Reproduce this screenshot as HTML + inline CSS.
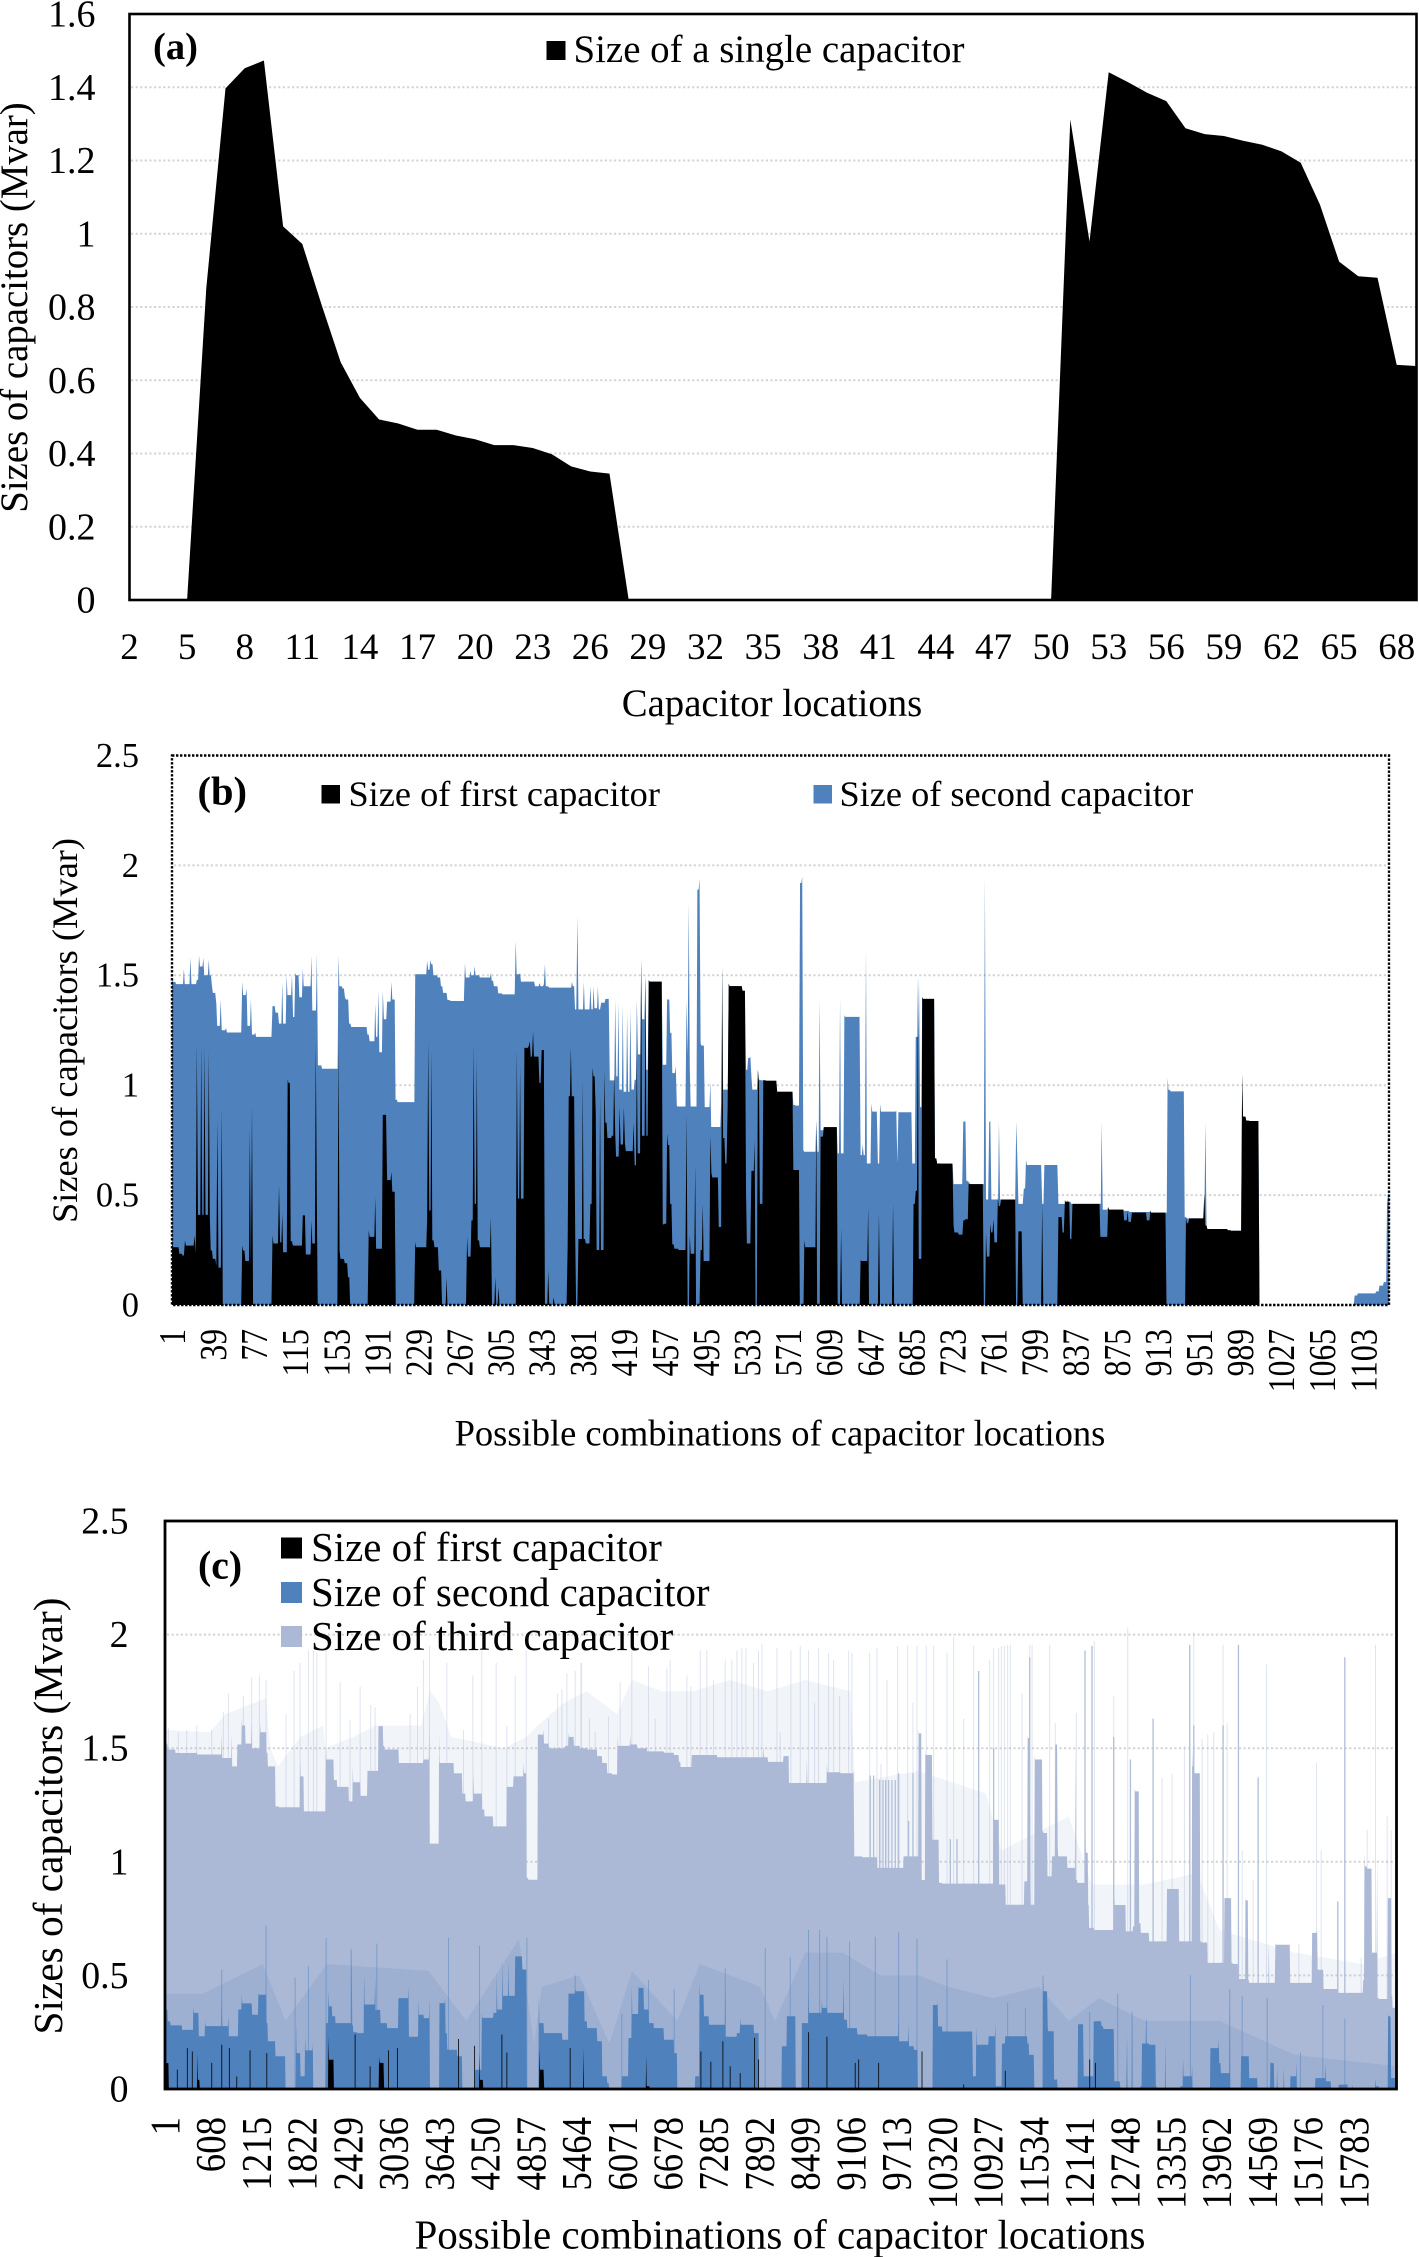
<!DOCTYPE html>
<html lang="en">
<head>
<meta charset="utf-8">
<title>Sizes of capacitors by location</title>
<style>
html,body{margin:0;padding:0;background:#fff;}
svg{display:block;font-family:"Liberation Serif",serif;fill:#000;}
</style>
</head>
<body>
<svg id="figure" width="1419" height="2257" viewBox="0 0 1419 2257" xmlns="http://www.w3.org/2000/svg">
  <rect x="0" y="0" width="1419" height="2257" fill="#fff"/>
  <g id="chart-a">
    <text transform="translate(27,307.5) rotate(-90)" text-anchor="middle" font-size="38.8">Sizes of capacitors (Mvar)</text>
    <text x="772" y="716" text-anchor="middle" font-size="38.8">Capacitor locations</text>
  </g>
  <g id="chart-b">
    <text transform="translate(77,1030.5) rotate(-90)" text-anchor="middle" font-size="36.4">Sizes of capacitors (Mvar)</text>
    <text x="780" y="1445.5" text-anchor="middle" font-size="36.5">Possible combinations of capacitor locations</text>
  </g>
  <g id="chart-c">
    <text transform="translate(62,1816) rotate(-90)" text-anchor="middle" font-size="41.3">Sizes of capacitors (Mvar)</text>
    <text x="780" y="2248.5" text-anchor="middle" font-size="41">Possible combinations of capacitor locations</text>
  </g>
</svg>
<script>
/* ---------- chart (a) data ---------- */
var aLocations = [2,3,4,5,6,7,8,9,10,11,12,13,14,15,16,17,18,19,20,21,22,23,24,25,26,27,28,29,30,31,32,33,34,35,36,37,38,39,40,41,42,43,44,45,46,47,48,49,50,51,52,53,54,55,56,57,58,59,60,61,62,63,64,65,66,67,68,69];
var aSizes = [0,0,0,0,.852,1.397,1.452,1.473,1.02,.972,.807,.649,.552,.493,.482,.465,.465,.449,.439,.423,.423,.415,.398,.365,.351,.345,
  0,0,0,0,0,0,0,0,0,0,0,0,0,0,0,0,0,0,0,0,0,0,0,
  1.312,.979,1.441,1.414,1.385,1.362,1.288,1.272,1.267,1.254,1.243,1.225,1.194,1.08,.924,.884,.88,.642,.639];
var aXTicks = [2,5,8,11,14,17,20,23,26,29,32,35,38,41,44,47,50,53,56,59,62,65,68];
var aYTicks = [0,0.2,0.4,0.6,0.8,1,1.2,1.4,1.6];

/* ---------- chart (b) data: stack tops ---------- */
var bFirstIndex = [
1,7,10,12,13,16,21,22,23,24,
25,28,29,31,32,35,36,38,41,42,
43,44,47,48,65,66,68,71,73,74,
75,76,93,94,99,100,101,103,105,108,
110,112,119,122,124,126,130,132,134,135,
137,154,155,156,160,163,165,182,183,187,
189,193,196,199,200,204,207,208,225,226,
233,237,238,239,241,243,247,250,253,255,
257,273,274,276,278,280,281,283,285,294,
296,297,300,301,303,304,319,320,321,323,
325,327,331,332,334,335,337,340,342,343,
345,346,349,350,354,355,366,367,368,370,
373,374,376,377,381,383,385,388,390,392,
393,395,397,399,401,403,405,408,410,411,
413,415,416,419,420,425,428,429,431,434,
435,437,439,441,442,454,455,457,459,461,
463,465,469,476,477,478,480,483,485,487,
489,490,492,494,499,500,506,509,510,512,
514,515,516,528,531,532,536,537,540,542,
543,544,546,548,550,560,563,575,577,581,
583,586,594,597,599,601,604,616,619,620,
622,636,638,643,645,647,654,655,656,667,
668,669,684,687,689,691,693,695,706,708,
711,723,724,728,731,733,735,738,751,752,
754,756,758,760,761,763,765,767,768,781,
783,784,787,788,805,806,807,820,821,824,
826,827,831,833,834,859,862,867,881,883,
885,888,889,902,904,906,920,921,937,939,
941,942,955,956,958,960,977,980,990,991,
994,997,1006,1007];
var bFirst = [
.286,.263,.233,.225,.294,.27,.27,.317,.233,1.185,
.41,1.177,.41,1.17,.41,1.154,.4,.248,.21,.18,
.84,.17,.9,0,0,.27,.248,.2,.8,.17,
.9,0,0,.317,.28,.545,.285,.416,.24,1.025,
1.01,.29,.27,.408,.408,.23,.385,.28,1.2,.46,
0,0,1.19,.25,.21,.19,.126,0,.34,.31,
.49,.256,.865,.865,.568,.606,.515,0,0,.286,
.263,.385,1.2,.43,1.154,.294,.263,.157,0,.126,
0,0,.31,.22,.385,1.185,.46,1.13,.294,.263,
.4,0,.126,0,.08,0,0,1.16,.484,1.086,
.484,1.17,1.177,1.2,1.13,1.243,1.13,1.13,1.01,1.16,
1.16,0,.157,0,.035,0,0,.263,.95,1.17,
.95,.32,0,.3,1.025,.3,.28,.46,1.08,1.04,
.87,.25,.95,.25,1.07,.83,.76,.77,1.05,.78,
.675,.9,.73,.9,.735,.7,.83,.636,1.14,.69,
1.573,.77,1.497,.77,1.478,1.471,.367,.37,.78,.728,
.46,.276,.256,.25,.87,0,.32,.233,.64,0,
0,.25,.46,.2,.77,.6,.58,.355,1.54,.76,
.644,.9,1.462,1.451,1.43,.52,.28,.61,.75,0,
1.07,1.01,.46,1.025,1.022,1.02,.97,.97,.614,.614,
0,.294,.263,.84,0,.766,.809,.809,0,.347,
0,0,.205,.2,.446,0,0,.416,0,0,
.46,0,0,.46,.52,1.497,.21,1.4,1.393,.667,
.644,.643,.362,.33,.32,.385,.39,.565,.55,0,
.33,.22,.37,.33,.39,.285,.49,.45,.48,.48,
0,.335,.335,0,0,.46,0,0,.4,.4,
.33,.477,.47,.3,.46,.46,.31,.446,.434,.385,
.428,.378,.42,.42,.385,.427,.42,0,0,.4,
.372,.394,.394,.507,.362,.346,.346,.34,.338,1.048,
.857,.839,.837,0];
var bSecondIndex = [
1,4,10,12,15,18,19,24,26,28,
30,32,35,37,38,41,42,44,46,47,
51,53,65,66,68,70,72,74,75,78,
80,93,94,96,99,100,103,105,107,109,
112,113,115,118,120,122,126,130,132,135,
136,139,143,153,155,158,160,161,164,166,
169,181,183,186,189,191,192,194,196,197,
200,204,207,209,212,224,226,234,237,238,
240,242,246,249,251,255,258,271,272,274,
277,279,281,285,294,296,298,302,306,318,
319,321,323,326,336,338,341,342,345,346,
349,355,366,371,373,375,376,377,380,382,
385,388,389,391,393,395,397,398,402,405,
406,409,411,412,414,416,418,420,422,423,
425,426,429,431,432,435,438,439,441,442,
454,455,457,459,461,463,465,467,468,476,
477,478,479,480,483,487,489,490,493,495,
497,499,501,506,509,510,512,516,528,531,
532,534,536,537,540,543,545,550,560,563,
575,577,581,582,584,585,594,597,598,600,
601,604,616,618,619,621,623,637,638,640,
642,643,645,648,653,654,656,658,671,672,
673,685,687,689,692,693,695,706,708,711,
723,724,732,733,735,737,752,753,754,756,
757,758,759,764,766,767,781,782,783,784,
788,789,791,795,805,806,808,820,821,827,
829,832,833,859,861,862,867,881,886,904,
906,920,922,924,937,939,956,957,958,960,
977,980,990,991,994,997,1006,1007,1086,1095,
1098,1115,1118,1122,1125,1126,1127];
var bSecond = [
1.49,1.47,1.46,1.53,1.46,1.58,1.46,1.48,1.59,1.54,
1.58,1.5,1.57,1.5,1.45,1.42,1.37,1.27,1.39,1.25,
1.26,1.24,1.24,1.47,1.41,1.44,1.27,1.39,1.23,1.24,
1.22,1.22,1.36,1.36,1.33,1.28,1.47,1.28,1.5,1.41,
1.5,1.31,1.51,1.5,1.4,1.53,1.45,1.59,1.34,1.6,
1.09,1.09,1.075,1.075,1.59,1.45,1.44,1.4,1.39,1.28,
1.265,1.265,1.23,1.2,1.37,1.22,1.43,1.15,1.43,1.3,
1.38,1.47,1.39,.934,.923,.923,1.505,1.505,1.565,1.525,
1.57,1.55,1.5,1.49,1.45,1.42,1.387,1.383,1.555,1.49,
1.52,1.5,1.54,1.5,1.49,1.51,1.475,1.45,1.418,1.413,
1.657,1.505,1.51,1.471,1.471,1.45,1.465,1.45,1.46,1.55,
1.45,1.444,1.444,1.47,1.45,1.345,1.77,1.345,1.345,1.47,
1.345,1.45,1.345,1.45,1.35,1.45,1.345,1.375,1.393,1.393,
1.022,1.022,1.39,1.04,1.375,.98,1.363,.97,1.33,.97,
1.345,.98,1.025,1.39,1.14,1.573,1.3,1.497,1.07,1.478,
1.471,1.093,1.093,1.39,1.39,1.238,1.055,1.086,.906,.903,
1.39,1.13,1.83,1.07,.903,1.89,1.94,1.19,1.18,.9,
.9,1.017,.81,.81,.918,1.54,.98,1.462,1.451,1.43,
1.07,1.124,1.13,1.04,.98,1.07,1.025,1.022,1.02,.97,
.97,.91,.907,1.92,1.95,.705,.697,.84,.697,1.39,
.795,.809,.809,.69,1.398,.69,1.318,1.311,.682,.73,
.682,1.63,.644,.918,.88,.644,.914,.88,.883,.644,
.877,.877,.644,1.22,1.497,.9,1.4,1.393,.667,.644,
.643,.55,.55,.835,.835,.565,.55,1.95,.48,.48,
.835,.835,.48,.48,.835,.48,.48,.835,.66,.46,
.46,.53,.66,.637,.637,.46,.637,.637,.46,.46,
.477,.47,.46,.46,.835,.434,.446,.434,.428,.423,
.43,.42,1.032,.979,.972,.4,.394,.835,.355,.346,
.346,.34,.338,1.048,.857,.839,.837,0,0,.043,
.053,.062,.088,.104,.46,.507,.5];
var bXTicks = [1,39,77,115,153,191,229,267,305,343,381,419,457,495,533,571,609,647,685,723,761,799,837,875,913,951,989,1027,1065,1103];
var bYTicks = [0,0.5,1,1.5,2,2.5];

/* ---------- chart (c) data: stack tops ---------- */
var cFirstIndex = [
1,46,112,400,431,457,510,2135,2171,2237,
2303,2821,2843,2901,2910,4096,4176,4220,4251,4951,
4973,5026,5035,5535,5557,5610,6375,6389,6428,6440,
16352];
var cFirst = [
.16,.114,0,0,.158,.04,0,0,.232,.129,
.004,0,.144,.115,0,0,.158,.04,0,0,
.18,.085,0,0,.18,0,0,.15,.012,0,
0];
var cFirstSpikeIndex = [165,298,364,621,754,856,953,1130,1352,2525,2724,2968,3087,3897,4110,4473,4539,5380,7115,7247,7407,7504,7637,7827,7880,8544,8788,9164,9209,9474,10050,10603,11156,12276,12352];
var cFirstSpike = [.085,.18,.165,.115,.195,.18,.055,.17,.158,.24,.1,.17,.18,.22,.19,.24,.16,.18,.165,.12,.21,.1,.07,.225,.13,.25,.23,.115,.13,.115,.165,.02,.08,.13,.115];
var cSecondIndex = [
1,32,68,223,311,378,444,488,533,643,
754,776,843,909,975,1020,1152,1197,1241,1343,
1361,1462,1595,1608,1706,1741,1794,1816,1861,1905,
1963,1980,2104,2135,2171,2215,2259,2458,2480,2494,
2550,2613,2644,2702,2790,2857,2945,3078,3100,3233,
3255,3366,3432,3499,3512,3530,3632,3645,3720,3742,
3875,3942,3964,4074,4118,4207,4295,4362,4406,4450,
4482,4517,4561,4592,4650,4738,4796,4805,4946,4964,
5026,5270,5314,5358,5446,5535,5565,5600,5733,5800,
5866,5890,5919,6034,6065,6154,6198,6240,6287,6353,
6420,6486,6619,6752,6796,6818,6995,7040,7097,7150,
7216,7371,7438,7504,7593,7637,7814,7880,7925,8124,
8190,8257,8368,8411,8456,8544,8611,8721,8788,8921,
9009,9053,9186,9319,9452,9695,9740,9784,9872,9939,
9990,10005,10182,10195,10258,10315,10716,10727,10771,10824,
10935,11024,11046,11112,11156,11444,11466,11533,11542,11643,
11657,11710,11719,11798,11812,11843,11851,12086,12122,12188,
12197,12285,12330,12427,12453,12595,12604,12675,12684,12763,
12772,12790,12825,12839,12852,12949,12971,13025,13060,13148,
13162,13259,13281,13295,13481,13516,13613,13636,13649,13844,
13879,13990,14012,14100,14136,14153,14268,14286,14388,14499,
14521,14654,14676,14720,14742,14764,14800,14853,14875,14942,
15021,15039,15229,15273,15406,15473,15482,15570,15583,15694,
15703,15761,15783,16026,16070,16114,16225,16238,16269,16278,
16336,16352];
var cSecond = [
.38,.35,.298,.28,.26,.364,.335,.232,.298,.277,
.408,.277,.32,.232,.35,.415,.377,.327,.42,.415,
.29,.21,.144,0,0,.29,.158,.056,.23,.17,
.2,0,0,.29,.437,.364,.32,.29,.613,.283,
.25,.246,.51,.372,.489,.348,.29,.268,.4,.452,
.23,.393,.327,.312,.408,0,0,.378,.4,.246,
.173,.144,0,0,.085,.335,.313,.335,.51,.35,
.57,.41,.57,.41,.584,.584,.526,0,0,.42,
.29,.246,.217,.42,.437,.43,.43,.298,.268,.21,
.056,.026,0,0,.056,.224,.452,.33,.452,.445,
.35,.29,.268,.217,.158,0,0,.056,.467,.415,
.32,.283,.452,.23,.246,.312,.283,.246,0,0,
.188,.327,.32,0,.29,.437,.335,.393,.357,.335,
.489,.305,.268,.24,.232,.232,.32,.21,.283,.188,
.172,0,0,.37,.378,.275,.253,.056,.283,.195,
.232,.29,.012,.2,.232,.232,.2,.15,0,0,
.467,.43,.27,.254,.041,.048,0,0,.285,.285,
.056,.056,.298,.298,.276,.264,.034,.034,0,0,
.24,0,0,.34,0,.012,.2,.298,.2,.195,
.012,0,.217,0,.012,.137,.056,.1,0,0,
.18,.217,.114,.07,.4,.004,.004,.144,.144,.048,
0,0,.122,.114,0,.092,0,.092,0,.056,
.117,0,0,.048,.114,.034,0,0,.019,.026,
0,.019,0,.004,.048,.012,0,.327,.32,.048,
.056,0];
var cSecondSpikeIndex = [754,1343,1728,1905,2140,2472,2813,3764,4176,4805,5446,6065,6420,6760,7438,7969,8301,8544,8691,8788,9089,9430,9740,9983,10382,11187,11422,11657,12276,12648,12839,13029,13613,14136,14300,14632,15074,15371,15663];
var cSecondSpike = [.525,.72,.49,.54,.665,.616,.64,.665,.63,.665,.5,.33,.48,.44,.53,.62,.58,.7,.7,.67,.65,.67,.69,.66,.57,.38,.357,.5,.34,.42,.34,.305,.5,.44,.41,.4,.16,.37,.31];
var cSecondFringeIndex = [1,500,1300,1600,2150,3500,4000,4700,4900,5000,5500,5900,6200,6800,7100,7900,8100,8500,9000,9500,10000,10400,11000,11600,12000,12400,13000,14000,15000,16352];
var cSecondFringe = [.42,.42,.55,.3,.55,.52,.3,.66,.2,.45,.5,.2,.52,.3,.55,.45,.3,.6,.6,.5,.5,.45,.4,.45,.3,.4,.3,.3,.15,.1];
var cThirdIndex = [
1,32,134,289,422,599,754,776,887,900,
962,1020,1064,1095,1152,1219,1263,1343,1361,1462,
1507,1706,1794,1839,1927,2082,2135,2237,2281,2436,
2467,2494,2591,2613,2689,2835,2892,2910,3100,3255,
3432,3508,3521,3623,3640,3742,3831,3942,3986,4030,
4074,4096,4207,4238,4353,4517,4539,4628,4761,4796,
4818,4902,4951,5026,5092,5203,5314,5358,5424,5504,
5600,5733,5800,5866,5933,5990,6008,6087,6176,6265,
6397,6619,6752,6818,6840,6951,6995,7327,7460,7726,
7947,8000,8102,8212,8279,8345,8456,8522,8611,8788,
8854,8965,9098,9142,9151,9253,9452,9474,9784,9806,
9939,10005,10040,10072,10094,10182,10204,10270,10315,10891,
11001,11068,11156,11170,11378,11409,11453,11480,11488,11533,
11546,11643,11657,11710,11732,11776,11820,11843,11851,11887,
11975,11998,12064,12086,12108,12152,12197,12219,12250,12263,
12330,12573,12604,12750,12772,12852,12874,12927,12949,12994,
13060,13104,13281,13303,13458,13481,13613,13636,13658,13738,
13755,13835,13857,14047,14065,14153,14171,14242,14277,14340,
14344,14375,14388,14632,14654,14667,14733,14742,14932,14946,
15207,15229,15296,15340,15375,15393,15561,15592,15871,15907,
15924,15951,16017,16035,16092,16114,16216,16234,16278,16291,
16336,16352];
var cThird = [
1.58,1.52,1.494,1.479,1.486,1.472,1.567,1.457,1.56,1.42,
1.516,1.626,1.6,1.52,1.61,1.5,1.61,1.57,1.48,1.42,
1.244,1.24,1.45,1.376,1.222,1.222,1.5,1.45,1.36,1.33,
1.266,1.42,1.35,1.29,1.4,1.597,1.597,1.51,1.494,1.435,
1.45,1.604,1.08,1.08,1.567,1.435,1.435,1.39,1.3,1.266,
1.266,1.39,1.3,1.23,1.2,1.156,1.33,1.376,1.435,1.39,
.929,.921,1.56,1.58,1.52,1.5,1.51,1.567,1.55,1.51,
1.5,1.494,1.465,1.435,1.39,1.384,1.553,1.51,1.553,1.516,
1.5,1.486,1.48,1.47,1.44,1.417,1.47,1.47,1.46,1.46,
1.51,1.46,1.44,1.465,1.47,1.347,1.347,1.45,1.347,1.435,
1.394,1.394,1.39,1.4,1.024,1.024,1.02,.973,.973,1.024,
1.024,1.58,1.565,.92,1.48,1.47,1.097,1.097,.907,.904,
1.185,1.185,.9,.811,.811,.914,1.545,1.545,.973,.811,
1.467,1.45,1.134,1.127,.936,1.024,1.516,1.516,1.076,1.024,
1.024,.973,.973,1.55,.92,.907,.907,1.127,1.04,.811,
.709,.7,.84,.81,.694,.716,1.325,1.31,.73,.687,
.687,.65,.65,.885,.88,.65,.65,1.5,1.42,1.39,
.65,.645,.555,.555,.84,.84,.555,.55,.484,.484,
.84,.83,.48,.467,.657,.467,.467,.643,.635,.467,
.467,.687,.7,.525,.525,.44,.44,.423,.423,.48,
1.04,.98,.97,.6,1.04,.4,.396,.84,.84,.41,
.357,.35];
var cFringeIndex = [1,600,800,1340,1400,1500,1800,2100,2130,2500,2800,3400,3520,3640,3800,4500,4800,4950,5300,5600,6000,6200,6600,7000,7500,8000,8500,9100,9160,10000,10900,11100,12000,12300,13000,13700,14000,15000,15900,16352];
var cFringe = [1.58,1.57,1.65,1.72,1.5,1.42,1.55,1.6,1.5,1.55,1.6,1.6,1.75,1.7,1.55,1.5,1.55,1.6,1.7,1.75,1.65,1.8,1.75,1.75,1.8,1.75,1.8,1.75,1.35,1.4,1.3,1.05,1.2,.9,.9,.95,.7,.6,.55,.6];
var cFaintSpikeIndex = [
46,178,289,422,621,776,843,1042,1152,1254,1343,1608,1715,1794,1905,1971,2016,2140,2326,2458,
2591,2733,2790,3255,3353,3432,3512,3742,3964,4088,4207,4397,4539,4650,4796,4960,5092,5212,5270,5336,
5446,5526,5525,5636,5711,5888,6043,6198,6420,6508,6663,6707,6929,6982,7106,7194,7283,7438,7526,7593,
7659,7712,7814,7880,7925,8124,8168,8310,8434,8544,8624,8677,8810,8877,8956,9076,9120,9355,9452,9505,
9585,9726,9859,9930,9983,10107,10205,10382,10470,10603,10736,10802,10948,11001,11068,11143,11103,11187,11223,11378,
11480,11511,11745,11820,12099,12214,12307,12338,12595,12781,12817,13118,13237,13370,13534,13605,13658,13768,13844,13923,
14047,14100,14251,14300,14446,14512,14623,15052,15287,15349,15570,15663,15880,15960,16070,16225,16278];
var cFaintSpike = [
1.59,1.57,1.58,1.6,1.58,1.66,1.74,1.73,1.81,1.82,1.8,1.65,1.84,1.875,1.93,1.93,1.92,1.93,1.79,1.625,
1.77,1.69,1.68,1.65,1.77,1.89,1.95,1.875,1.58,1.82,1.93,1.875,1.6,1.82,1.93,1.54,1.63,1.74,1.76,1.83,
1.84,1.875,1.875,1.63,1.57,1.64,1.79,1.93,1.86,1.63,1.85,1.89,1.82,1.77,1.93,1.93,1.8,1.89,1.89,1.93,
1.94,1.94,1.875,1.93,1.96,1.94,1.57,1.93,1.95,1.93,1.7,1.94,1.92,1.89,1.73,1.93,1.92,1.92,1.94,1.43,
1.8,1.95,1.95,1.7,1.95,1.95,1.95,1.92,1.99,1.63,1.95,1.84,1.89,1.94,1.94,1.95,1.95,1.955,1.955,1.74,
1.955,1.955,1.955,1.61,1.655,1.93,1.95,1.97,1.73,2.03,1.45,1.63,1.37,1.385,1.51,1.955,2.01,1.54,1.56,1.57,
1.955,1.61,1.955,1.05,.92,1.376,1.87,.64,1.435,1.05,.825,1.9,.58,1.14,1.955,1.2,1.14];
var cStrongSpikeIndex = [9363,9408,9487,9532,9567,9607,9651,9695,9740,9872,9930,10426,10514,10802,11001,11480,12214,12307,12595,12817,13118,13605,13658,14047,14251,14512,15570,15663];
var cStrongSpike = [1.38,1.38,1.36,1.36,1.36,1.36,1.36,1.36,1.39,1.18,1.39,1.1,1.1,1.84,1.5,1.9,1.93,1.95,1.55,1.45,1.63,1.955,1.6,1.6,1.955,1.37,.825,1.9];
var cXTicks = [1,608,1215,1822,2429,3036,3643,4250,4857,5464,6071,6678,7285,7892,8499,9106,9713,10320,10927,11534,12141,12748,13355,13962,14569,15176,15783];
var cYTicks = [0,0.5,1,1.5,2,2.5];

/* ---------- axis functions ---------- */
function xA(v){ return 129.5 + (v - 2) * 19.2; }
function yA(v){ return 600 - v * 366.25; }
function xB(v){ return 172 + (v - 1) * 1.081; }
function yB(v){ return 1305 - v * 219.8; }
function xC(v){ return 165 + (v - 1) * 0.07533; }
function yC(v){ return 2089 - v * 227.2; }

/* ---------- colours ---------- */
var black = '#000000', blue = '#4f81bd', pale = '#abb9d6', grid = '#d4d4d4';

/* ---------- helpers ---------- */
var NS = 'http://www.w3.org/2000/svg';
function node(tag, parent){
  var e = document.createElementNS(NS, tag);
  parent.appendChild(e);
  return e;
}
function areaPath(ix, vals, xf, yf, ramp){
  var n = Math.min(ix.length, vals.length);
  var d = 'M' + xf(ix[0]).toFixed(2) + ' ' + yf(0).toFixed(2);
  for (var i = 0; i < n; i++){
    d += 'L' + xf(ix[i]).toFixed(2) + ' ' + yf(vals[i]).toFixed(2);
    /* between readings the stack holds the lower level, leaving needle-thin peaks */
    if (ramp && i < n - 1 && ix[i+1] - ix[i] > 2 * ramp){
      var low = Math.min(vals[i], vals[i+1]);
      d += 'L' + xf(ix[i] + ramp).toFixed(2) + ' ' + yf(low).toFixed(2);
      d += 'L' + xf(ix[i+1] - ramp).toFixed(2) + ' ' + yf(low).toFixed(2);
    }
  }
  d += 'L' + xf(ix[n-1]).toFixed(2) + ' ' + yf(0).toFixed(2) + 'Z';
  return d;
}
function drawArea(parent, name, ix, vals, xf, yf, color, ramp, opacity){
  var p = node('path', parent);
  
  
  p.setAttribute('d', areaPath(ix, vals, xf, yf, ramp));
  p.setAttribute('fill', color);
  if (opacity) p.setAttribute('fill-opacity', opacity);
  return p;
}
function drawSpikes(parent, name, ix, vals, xf, yf, color, width, opacity){
  var g = node('g', parent);
  
  
  for (var i = 0; i < Math.min(ix.length, vals.length); i++){
    var l = node('line', g);
    
    
    l.setAttribute('x1', xf(ix[i]));
    l.setAttribute('x2', xf(ix[i]));
    l.setAttribute('y1', yf(0));
    l.setAttribute('y2', yf(vals[i]));
    l.setAttribute('stroke', color);
    l.setAttribute('stroke-width', width);
    l.setAttribute('stroke-opacity', opacity);
  }
}
function drawGrid(parent, ticks, x0, x1, yf){
  ticks.forEach(function(t, i){
    if (i === 0 || i === ticks.length - 1) return;
    var l = node('line', parent);
    
    
    l.setAttribute('x1', x0);
    l.setAttribute('x2', x1);
    l.setAttribute('y1', yf(t));
    l.setAttribute('y2', yf(t));
    l.setAttribute('stroke', grid);
    l.setAttribute('stroke-width', 2);
    l.setAttribute('stroke-dasharray', '2.2 2.4');
  });
}
function drawYLabels(parent, ticks, right, size, yf){
  ticks.forEach(function(t){
    var s = node('text', parent);
    
    
    s.setAttribute('x', right);
    s.setAttribute('y', yf(t) + size * 0.33);
    s.setAttribute('text-anchor', 'end');
    s.setAttribute('font-size', size);
    s.textContent = String(t);
  });
}
function drawRotatedX(parent, ticks, xf, offset, top, size, digitW){
  ticks.forEach(function(t){
    var s = node('text', parent);
    
    
    var label = String(t);
    s.setAttribute('transform', 'translate(' + (xf(t) + offset) + ',' + top + ') rotate(-90)');
    s.setAttribute('text-anchor', 'end');
    s.setAttribute('font-size', size);
    s.setAttribute('textLength', label.length * digitW);
    s.setAttribute('lengthAdjust', 'spacingAndGlyphs');
    s.textContent = label;
  });
}
function drawFrame(parent, name, x, y, w, h, width, dash){
  var r = node('rect', parent);
  
  
  r.setAttribute('x', x);
  r.setAttribute('y', y);
  r.setAttribute('width', w);
  r.setAttribute('height', h);
  r.setAttribute('fill', 'none');
  r.setAttribute('stroke', '#000');
  r.setAttribute('stroke-width', width);
  if (dash) r.setAttribute('stroke-dasharray', dash);
}
function drawSwatch(parent, name, x, y, size, color){
  var r = node('rect', parent);
  
  
  r.setAttribute('x', x);
  r.setAttribute('y', y);
  r.setAttribute('width', size);
  r.setAttribute('height', size);
  r.setAttribute('fill', color);
}
function drawLabel(parent, name, x, y, size, text, bold){
  var s = node('text', parent);
  
  
  s.setAttribute('x', x);
  s.setAttribute('y', y);
  s.setAttribute('font-size', size);
  if (bold) s.setAttribute('font-weight', 'bold');
  s.textContent = text;
}

/* ---------- chart (a) ---------- */
var ga = document.getElementById('chart-a');
drawGrid(ga, aYTicks, 131, 1416, yA);
drawArea(ga, 'single-capacitor-area', aLocations, aSizes, xA, yA, black);
drawFrame(ga, 'chart-a-frame', 129.5, 14, 1287, 586, 2.6);
drawYLabels(ga, aYTicks, 95.5, 38, yA);
aXTicks.forEach(function(t){
  var s = node('text', ga);
  
  
  s.setAttribute('x', xA(t));
  s.setAttribute('y', 659);
  s.setAttribute('text-anchor', 'middle');
  s.setAttribute('font-size', 37);
  s.textContent = String(t);
});
drawLabel(ga, 'panel-label-a', 153, 59, 38.5, '(a)', true);
drawSwatch(ga, 'legend-swatch-single', 546.5, 41, 19, black);
drawLabel(ga, 'legend-label-single', 573.5, 62, 38.9, 'Size of a single capacitor');

/* ---------- chart (b) ---------- */
var gb = document.getElementById('chart-b');
drawGrid(gb, bYTicks, 174, 1388, yB);
drawArea(gb, 'second-capacitor-area', bSecondIndex, bSecond, xB, yB, blue, 0.8);
drawArea(gb, 'first-capacitor-area', bFirstIndex, bFirst, xB, yB, black, 0.8);
drawFrame(gb, 'chart-b-frame', 172, 755.5, 1217, 549.5, 2.4, '2.4 1.6');
drawYLabels(gb, bYTicks, 139, 34.5, yB);
drawRotatedX(gb, bXTicks, xB, 13, 1329, 38, 15.8);
drawLabel(gb, 'panel-label-b', 197.5, 804.5, 40.5, '(b)', true);
drawSwatch(gb, 'legend-swatch-first', 321.5, 785, 18.5, black);
drawLabel(gb, 'legend-label-first', 348.5, 806, 36.3, 'Size of first capacitor');
drawSwatch(gb, 'legend-swatch-second', 813.5, 785, 18.5, blue);
drawLabel(gb, 'legend-label-second', 839.5, 806, 36.3, 'Size of second capacitor');

/* ---------- chart (c) ---------- */
var gc = document.getElementById('chart-c');
drawGrid(gc, cYTicks, 167, 1395, yC);
drawArea(gc, 'third-capacitor-fringe', cFringeIndex, cFringe, xC, yC, pale, 0, 0.16);
drawSpikes(gc, 'third-capacitor-faint-spikes', cFaintSpikeIndex, cFaintSpike, xC, yC, pale, 1, 0.38);
drawSpikes(gc, 'third-capacitor-strong-spikes', cStrongSpikeIndex, cStrongSpike, xC, yC, pale, 1.3, 0.9);
drawArea(gc, 'third-capacitor-area', cThirdIndex, cThird, xC, yC, pale, 6);
drawArea(gc, 'second-capacitor-fringe', cSecondFringeIndex, cSecondFringe, xC, yC, blue, 0, 0.14);
drawSpikes(gc, 'second-capacitor-spikes', cSecondSpikeIndex, cSecondSpike, xC, yC, blue, 1, 0.5);
drawArea(gc, 'second-capacitor-area', cSecondIndex, cSecond, xC, yC, blue, 6);
drawSpikes(gc, 'first-capacitor-spikes', cFirstSpikeIndex, cFirstSpike, xC, yC, black, 1, 0.8);
drawArea(gc, 'first-capacitor-area', cFirstIndex, cFirst, xC, yC, black, 6);
drawFrame(gc, 'chart-c-frame', 165, 1521, 1231.5, 568, 2.8);
drawYLabels(gc, cYTicks, 128.5, 37.8, yC);
drawRotatedX(gc, cXTicks, xC, 14.5, 2117, 42, 18.4);
drawLabel(gc, 'panel-label-c', 198, 1578.5, 39.7, '(c)', true);
drawSwatch(gc, 'legend-swatch-first', 281, 1537.5, 21, black);
drawLabel(gc, 'legend-label-first', 311, 1561, 40.9, 'Size of first capacitor');
drawSwatch(gc, 'legend-swatch-second', 281, 1582, 21, blue);
drawLabel(gc, 'legend-label-second', 311, 1606, 40.9, 'Size of second capacitor');
drawSwatch(gc, 'legend-swatch-third', 281, 1626, 21, pale);
drawLabel(gc, 'legend-label-third', 311, 1650, 40.9, 'Size of third capacitor');
</script>
</body>
</html>
